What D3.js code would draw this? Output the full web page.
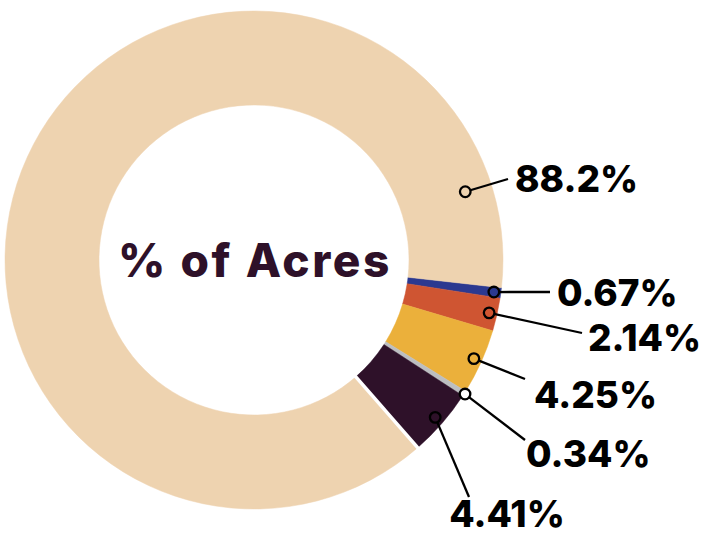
<!DOCTYPE html>
<html>
<head>
<meta charset="utf-8">
<script src="https://cdn.jsdelivr.net/npm/d3@7"></script>
<style>
  body { margin: 0; background: #fff; }
  svg { display: block; }
  .lbl { font-family: Inter, "Noto Sans", sans-serif; font-weight: 800; fill: #000; }
  .title { font-family: Inter, "Noto Sans", sans-serif; font-weight: 800; fill: #2e1129; }
</style>
</head>
<body>
<div id="chart"></div>
<script>
// slice order runs clockwise from just below 3 o'clock
const categories = ["navy", "orange", "yellow", "gray", "purple", "tan"];
const values = [0.67, 2.14, 4.25, 0.34, 4.41, 88.2];
const labels = ["0.67%", "2.14%", "4.25%", "0.34%", "4.41%", "88.2%"];
const colors = ["#2b3990", "#cf5532", "#ebb03b", "#bcbec0", "#2e1129", "#eed3b0"];

const width = 703, height = 533;
const cx = 254, cy = 260;
const outerR = 249, innerR = 155;
const startDeg = 96.4;

// annotation layout: marker radius (or fixed angle), line end, text spot
const layout = [
  { r: 242, end: [550, 292], text: [557, 306], anchor: "start" },
  { r: 241, end: [582, 333], text: [588, 351], anchor: "start" },
  { r: 241, end: [525, 379], text: [534, 408], anchor: "start" },
  { r: 250, end: [525, 440], text: [526, 467], anchor: "start" },
  { r: 240, end: [469, 497], text: [507, 527], anchor: "middle" },
  { r: 222, deg: 72.1, end: [508, 179], text: [515, 192], anchor: "start" }
];

const data = categories.map((c, i) => ({ cat: c, value: values[i], label: labels[i], color: colors[i], lay: layout[i] }));

const rad = d => d * Math.PI / 180;

const pie = d3.pie()
  .sort(null)
  .value(d => d.value)
  .startAngle(rad(startDeg))
  .endAngle(rad(startDeg) + 2 * Math.PI);

const arcs = pie(data);

const arc = d3.arc().innerRadius(innerR).outerRadius(outerR);

const svg = d3.select("#chart").append("svg")
  .attr("width", width)
  .attr("height", height);

const g = svg.append("g").attr("transform", `translate(${cx},${cy})`);

g.selectAll("path.slice")
  .data(arcs)
  .join("path")
  .attr("class", "slice")
  .attr("d", arc)
  .attr("fill", d => d.data.color)
  .attr("stroke", d => d.data.color)
  .attr("stroke-width", 0.5);

// white separator between the dark purple slice and the big tan one
const tanArc = arcs[arcs.length - 1];
const sepA = tanArc.startAngle;
g.append("line")
  .attr("x1", Math.sin(sepA) * (innerR - 2))
  .attr("y1", -Math.cos(sepA) * (innerR - 2))
  .attr("x2", Math.sin(sepA) * (outerR + 2))
  .attr("y2", -Math.cos(sepA) * (outerR + 2))
  .attr("stroke", "#fff")
  .attr("stroke-width", 3.5);

// marker positions
arcs.forEach(d => {
  const a = d.data.lay.deg != null ? rad(d.data.lay.deg) : (d.startAngle + d.endAngle) / 2;
  d.mx = cx + Math.sin(a) * d.data.lay.r;
  d.my = cy - Math.cos(a) * d.data.lay.r;
});

svg.selectAll("line.leader")
  .data(arcs)
  .join("line")
  .attr("class", "leader")
  .attr("x1", d => d.mx)
  .attr("y1", d => d.my)
  .attr("x2", d => d.data.lay.end[0])
  .attr("y2", d => d.data.lay.end[1])
  .attr("stroke", "#000")
  .attr("stroke-width", 2.3);

svg.selectAll("circle.marker")
  .data(arcs)
  .join("circle")
  .attr("class", "marker")
  .attr("cx", d => d.mx)
  .attr("cy", d => d.my)
  .attr("r", 5.3)
  .attr("fill", d => d.data.cat === "gray" ? "#fff" : d.data.color)
  .attr("stroke", "#000")
  .attr("stroke-width", 2.3);

svg.selectAll("text.lbl")
  .data(arcs)
  .join("text")
  .attr("class", "lbl")
  .attr("x", d => d.data.lay.text[0])
  .attr("y", d => d.data.lay.text[1])
  .attr("text-anchor", d => d.data.lay.anchor)
  .style("font-size", "37px")
  .text(d => d.data.label);

svg.append("text")
  .attr("class", "title")
  .attr("x", cx + 1)
  .attr("y", 277)
  .attr("text-anchor", "middle")
  .style("font-size", "46px")
  .style("letter-spacing", "2.6px")
  .text("% of Acres");
</script>
</body>
</html>
